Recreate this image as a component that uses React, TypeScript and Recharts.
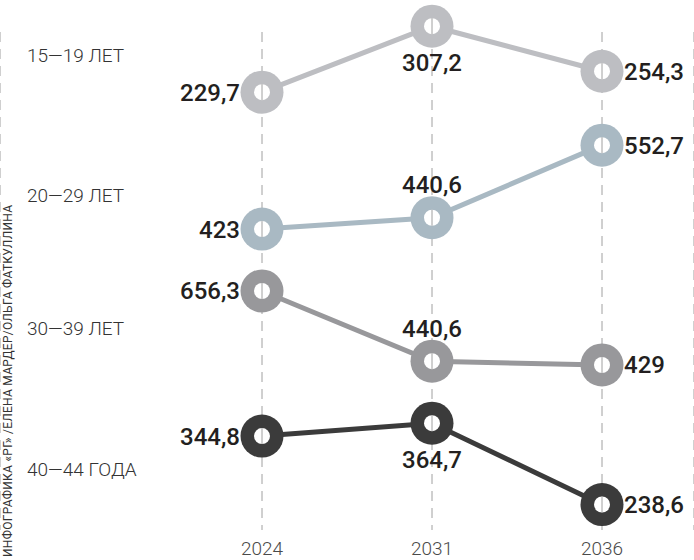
import { LineChart, Line, XAxis, YAxis, CartesianGrid, LabelList } from "recharts";

const years = ["2024", "2031", "2036"];
const ages15to19 = [229.7, 307.2, 254.3];
const ages20to29 = [423, 440.6, 552.7];
const ages30to39 = [656.3, 440.6, 429];
const ages40to44 = [344.8, 364.7, 238.6];
const groupLabels = ["15—19 ЛЕТ", "20—29 ЛЕТ", "30—39 ЛЕТ", "40—44 ГОДА"];
const credit = "ИНФОГРАФИКА «РГ» /ЕЛЕНА МАРДЕР/ОЛЬГА ФАТКУЛЛИНА";

const rows = years.map((year, i) => ({
  year,
  g1: ages15to19[i],
  g2: ages20to29[i],
  g3: ages30to39[i],
  g4: ages40to44[i],
}));

type Side = "left" | "right" | "top" | "bottom";

// each age band gets its own hidden axis so the four lines stack like the print version
const series: { key: string; color: string; domain: [number, number]; sides: Side[] }[] = [
  { key: "g1", color: "#bdbec2", domain: [-287, 338], sides: ["left", "bottom", "right"] },
  { key: "g2", color: "#a9b9c3", domain: [-45, 777], sides: ["left", "top", "right"] },
  { key: "g3", color: "#98989b", domain: [-84, 1550], sides: ["left", "top", "right"] },
  { key: "g4", color: "#3b3b3b", domain: [196, 1021], sides: ["left", "bottom", "right"] },
];

const groupLabelY = [55, 195, 328, 469];
const FONT = "Roboto, 'Noto Sans', sans-serif";

const makeDot = (color: string) => (props: any) => {
  const { cx, cy, index } = props;
  return (
    <g key={`dot-${color}-${index}`}>
      <circle cx={cx} cy={cy} r={21.5} fill={color} />
      <circle cx={cx} cy={cy} r={8} fill="#fff" />
      <line x1={cx} x2={cx} y1={cy - 8} y2={cy + 8} stroke="#a0a0a0" strokeWidth={1} />
    </g>
  );
};

const makeLabel = (sides: Side[]) => (props: any) => {
  const { x, y, value, index } = props;
  const side = sides[index];
  let tx = x;
  let ty = y + 8.5;
  let anchor: "start" | "middle" | "end" = "middle";
  if (side === "left") {
    tx = x - 22;
    anchor = "end";
  } else if (side === "right") {
    tx = x + 22;
    anchor = "start";
  } else if (side === "top") {
    ty = y - 33 + 8.5;
  } else {
    ty = y + 36 + 8.5;
  }
  return (
    <text
      key={`lbl-${index}`}
      x={tx}
      y={ty}
      textAnchor={anchor}
      fill="#231f20"
      fontFamily={FONT}
      fontWeight={500}
      fontSize={24}
    >
      {String(value).replace(".", ",")}
    </text>
  );
};

export default function App() {
  return (
    <div style={{ position: "relative", width: 694, height: 560, background: "#fff" }}>
      <style>{"body{margin:0}"}</style>
      <LineChart width={694} height={560} data={rows} margin={{ top: 0, right: 0, bottom: 0, left: 0 }}>
        <CartesianGrid
          horizontal={false}
          stroke="#a0a0a0"
          strokeDasharray="10 7"
          y={32}
          height={498}
        />
        <XAxis
          dataKey="year"
          padding={{ left: 262, right: 92 }}
          axisLine={false}
          tickLine={false}
          tickSize={0}
          height={28}
          tick={{ fill: "#4a4a4a", fontSize: 19, fontFamily: FONT, fontWeight: 300 }}
          dy={8}
        />
        {series.map((s) => (
          <YAxis
            key={s.key}
            yAxisId={s.key}
            type="number"
            domain={s.domain}
            allowDataOverflow
            hide
          />
        ))}
        {series.map((s) => (
          <Line
            key={s.key}
            yAxisId={s.key}
            dataKey={s.key}
            type="linear"
            stroke={s.color}
            strokeWidth={5}
            dot={makeDot(s.color)}
            activeDot={false}
            isAnimationActive={false}
          >
            <LabelList dataKey={s.key} content={makeLabel(s.sides)} />
          </Line>
        ))}
      </LineChart>
      <svg
        width={694}
        height={560}
        style={{ position: "absolute", left: 0, top: 0, pointerEvents: "none" }}
      >
        {groupLabels.map((t, i) => (
          <text
            key={t}
            x={27}
            y={groupLabelY[i] + 7}
            fill="#333"
            fontFamily={FONT}
            fontWeight={300}
            fontSize={19}
          >
            {t}
          </text>
        ))}
        <text
          x={12}
          y={381}
          transform="rotate(-90 12 381)"
          textAnchor="middle"
          fill="#333"
          fontFamily={FONT}
          fontSize={12}
          textLength={352}
          lengthAdjust="spacing"
        >
          {credit}
        </text>
      </svg>
    </div>
  );
}
